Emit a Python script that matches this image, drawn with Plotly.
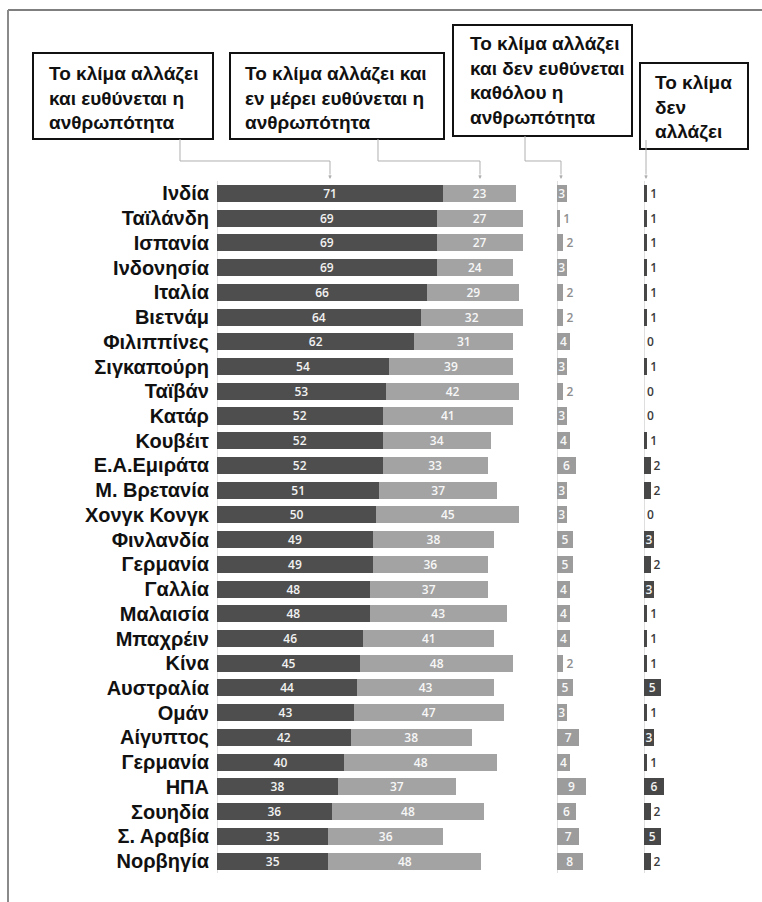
import plotly.graph_objects as go

W, H = 762, 902

countries = ["Ινδία", "Ταϊλάνδη", "Ισπανία", "Ινδονησία", "Ιταλία", "Βιετνάμ",
             "Φιλιππίνες", "Σιγκαπούρη", "Ταϊβάν", "Κατάρ", "Κουβέιτ",
             "Ε.Α.Εμιράτα", "Μ. Βρετανία", "Χονγκ Κονγκ", "Φινλανδία", "Γερμανία",
             "Γαλλία", "Μαλαισία", "Μπαχρέιν", "Κίνα", "Αυστραλία", "Ομάν",
             "Αίγυπτος", "Γερμανία", "ΗΠΑ", "Σουηδία", "Σ. Αραβία", "Νορβηγία"]
human = [71, 69, 69, 69, 66, 64, 62, 54, 53, 52, 52, 52, 51, 50,
         49, 49, 48, 48, 46, 45, 44, 43, 42, 40, 38, 36, 35, 35]
partly = [23, 27, 27, 24, 29, 32, 31, 39, 42, 41, 34, 33, 37, 45,
          38, 36, 37, 43, 41, 48, 43, 47, 38, 48, 37, 48, 36, 48]
not_human = [3, 1, 2, 3, 2, 2, 4, 3, 2, 3, 4, 6, 3, 3,
             5, 5, 4, 4, 4, 2, 5, 3, 7, 4, 9, 6, 7, 8]
no_change = [1, 1, 1, 1, 1, 1, 0, 1, 0, 0, 1, 2, 2, 0,
             3, 2, 3, 1, 1, 1, 5, 1, 3, 1, 6, 2, 5, 2]

headers = [
    "Το κλίμα αλλάζει<br>και ευθύνεται η<br>ανθρωπότητα",
    "Το κλίμα αλλάζει και<br>εν μέρει ευθύνεται η<br>ανθρωπότητα",
    "Το κλίμα αλλάζει<br>και δεν ευθύνεται<br>καθόλου η<br>ανθρωπότητα",
    "Το κλίμα<br>δεν<br>αλλάζει",
]

rows = list(range(len(countries)))


def px(x):
    return x / W


def py(y):
    return 1 - y / H


DARK = "#4e4e4e"
LIGHT = "#a3a3a3"
MID = "#9c9c9c"
DARK4 = "#474747"
NUMFONT = "Open Sans, DejaVu Sans, sans-serif"
BOLDFONT = "Liberation Sans, Arial, sans-serif"
BW = 0.69

fig = go.Figure()

common_bar = dict(orientation="h", yaxis="y", width=BW, textangle=0,
                  constraintext="none", cliponaxis=False, hoverinfo="skip",
                  showlegend=False, insidetextanchor="middle")

fig.add_trace(go.Bar(
    y=rows, x=human, xaxis="x",
    marker=dict(color=DARK, line=dict(width=0)),
    text=[str(v) for v in human], textposition="inside",
    textfont=dict(family=NUMFONT, size=12, color="#f2f2f2", weight=600),
    **common_bar,
))
fig.add_trace(go.Bar(
    y=rows, x=partly, xaxis="x",
    marker=dict(color=LIGHT, line=dict(width=0)),
    text=[str(v) for v in partly], textposition="inside",
    textfont=dict(family=NUMFONT, size=12, color="#f7f7f7", weight=600),
    **common_bar,
))
fig.add_trace(go.Bar(
    y=rows, x=not_human, xaxis="x2",
    marker=dict(color=MID, line=dict(width=0)),
    text=[str(v) for v in not_human],
    textposition=["inside" if v >= 3 else "outside" for v in not_human],
    textfont=dict(family=NUMFONT, size=12, color="#8e8e8e", weight=600),
    insidetextfont=dict(family=NUMFONT, size=12, color="#f7f7f7", weight=600),
    outsidetextfont=dict(family=NUMFONT, size=12, color="#8e8e8e", weight=600),
    **common_bar,
))
fig.add_trace(go.Bar(
    y=rows, x=no_change, xaxis="x3",
    marker=dict(color=DARK4, line=dict(width=0)),
    text=[str(v) for v in no_change],
    textposition=["inside" if v >= 3 else "outside" for v in no_change],
    textfont=dict(family=NUMFONT, size=12, color="#3a3a3a", weight=600),
    insidetextfont=dict(family=NUMFONT, size=12, color="#f2f2f2", weight=600),
    outsidetextfont=dict(family=NUMFONT, size=12, color="#3a3a3a", weight=600),
    **common_bar,
))

xcommon = dict(showgrid=False, showticklabels=False, ticks="", showline=False,
               zeroline=True, zerolinecolor="#dedede", zerolinewidth=1, fixedrange=True)

fig.update_layout(
    width=W, height=H,
    margin=dict(l=0, r=0, t=0, b=0),
    paper_bgcolor="white", plot_bgcolor="white",
    barmode="stack",
    xaxis=dict(domain=[px(217), px(535.4)], range=[0, 100], **xcommon),
    xaxis2=dict(domain=[px(557), px(595.4)], range=[0, 12], anchor="y", **xcommon),
    xaxis3=dict(domain=[px(644), px(683.6)], range=[0, 12], anchor="y", **xcommon),
    yaxis=dict(
        domain=[py(873.4), py(181.1)], range=[len(countries) - 0.5, -0.5],
        tickmode="array", tickvals=rows, ticktext=countries,
        ticks="", showgrid=False, zeroline=False, showline=False,
        ticklabelstandoff=7,
        tickfont=dict(family=BOLDFONT, size=20, color="#111111", weight="bold"),
        anchor="x", fixedrange=True,
    ),
    showlegend=False,
)

# frame lines
fig.add_shape(type="line", xref="paper", yref="paper", x0=px(8), x1=px(762), y0=py(10), y1=py(10),
              line=dict(color="#555555", width=1.5))
fig.add_shape(type="line", xref="paper", yref="paper", x0=px(8), x1=px(8), y0=py(10), y1=py(902),
              line=dict(color="#8a8a8a", width=2))

# header boxes and texts
boxes = [(33, 53, 213, 139), (230, 53, 444, 139), (453, 25, 632, 136), (640, 63, 748, 149)]
text_left = [47, 243, 468, 653]
text_mid = [98, 98, 80, 107]
for (x0, y0, x1, y1), hx, hy, txt in zip(boxes, text_left, text_mid, headers):
    fig.add_shape(type="rect", xref="paper", yref="paper",
                  x0=px(x0), x1=px(x1), y0=py(y0), y1=py(y1),
                  line=dict(color="#111111", width=2), fillcolor="white", layer="below")
    fig.add_annotation(xref="paper", yref="paper", x=px(hx), y=py(hy),
                       xanchor="left", yanchor="middle", align="left", showarrow=False,
                       text=txt, font=dict(family=BOLDFONT, size=19, color="#111111", weight="bold"))

# connectors
paths = [
    [(180, 139), (180, 161), (330, 161), (330, 174)],
    [(378, 139), (378, 161), (480, 161), (480, 174)],
    [(525, 136), (525, 161), (561, 161), (561, 174)],
    [(646, 140), (646, 174)],
]
for pts in paths:
    d = "M " + " L ".join(f"{px(x):.5f},{py(y):.5f}" for x, y in pts)
    fig.add_shape(type="path", xref="paper", yref="paper", path=d,
                  line=dict(color="#b0b0b0", width=1))
    tx, ty = pts[-1]
    fig.add_annotation(xref="paper", yref="paper", x=px(tx), y=py(ty + 5),
                       ax=0, ay=-6, text="", showarrow=True,
                       arrowhead=2, arrowsize=0.7, arrowwidth=1, arrowcolor="#b0b0b0")

fig.write_html("out.html", config={"displayModeBar": False},
               post_script="document.body.style.margin='0';document.body.style.overflow='hidden';")
